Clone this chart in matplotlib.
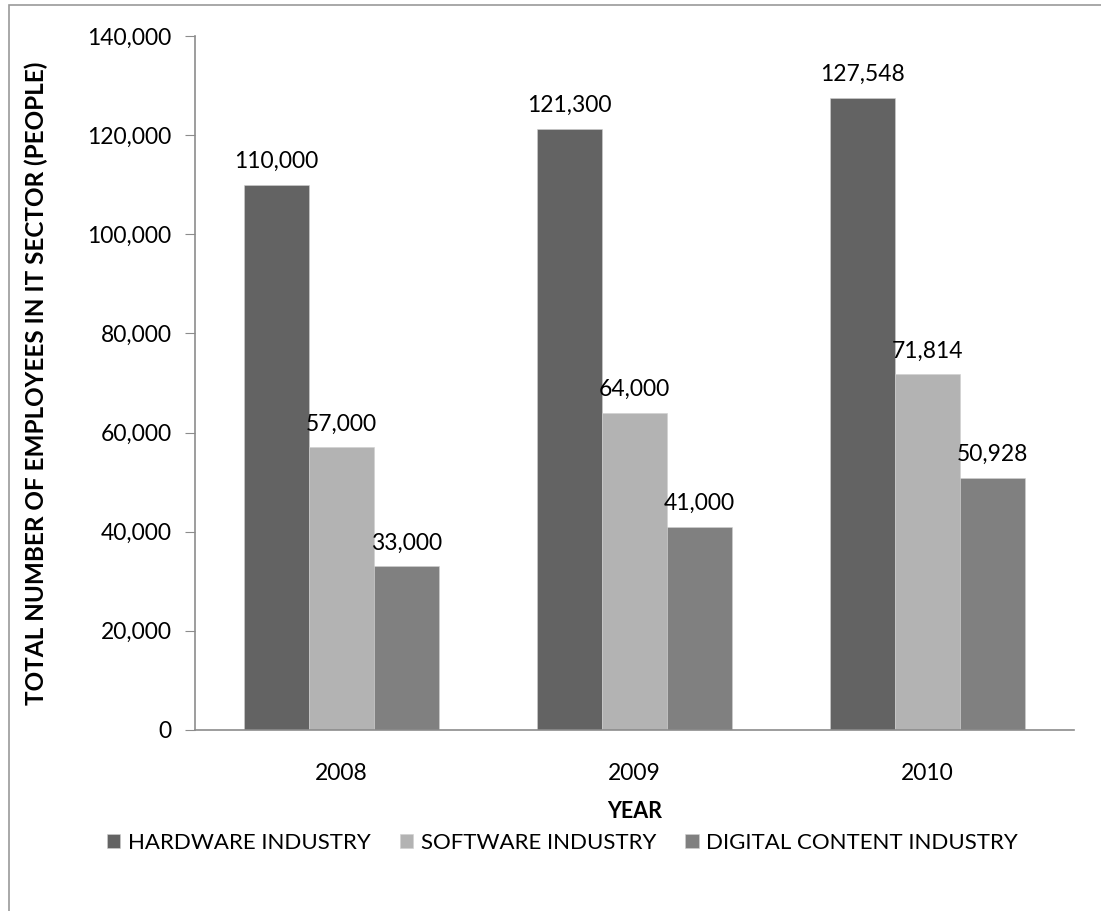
import numpy as np
import matplotlib
matplotlib.use("Agg")
import matplotlib.pyplot as plt
from matplotlib.patches import Rectangle

plt.rcParams['font.family'] = ['Lato', 'DejaVu Sans']

years = ["2008", "2009", "2010"]
series = ["HARDWARE INDUSTRY", "SOFTWARE INDUSTRY", "DIGITAL CONTENT INDUSTRY"]
hardware = [110000, 121300, 127548]
software = [57000, 64000, 71814]
digital = [33000, 41000, 50928]
colors = ["#636363", "#b3b3b3", "#808080"]

fig = plt.figure(figsize=(11.01, 9.11), dpi=100)
ax = fig.add_axes([0.1771, 0.1987, 0.7984, 0.7618])

x = np.arange(len(years))
width = 0.222
for i, (vals, name, c) in enumerate(zip([hardware, software, digital], series, colors)):
    bars = ax.bar(x + (i - 1) * width, vals, width, color=c, label=name,
                  edgecolor="#d0d0d0", linewidth=0.4)
    for b, v in zip(bars, vals):
        ax.annotate(f"{v:,}", (b.get_x() + b.get_width() / 2, v),
                    xytext=(0, 9), textcoords="offset points",
                    ha="center", va="bottom", fontsize=16.5)

ax.set_xlim(-0.5, 2.5)
ax.set_ylim(0, 140000)
ax.set_yticks(range(0, 140001, 20000))
ax.yaxis.set_major_formatter(matplotlib.ticker.FuncFormatter(lambda v, p: f"{int(v):,}"))
ax.set_xticks(x)
ax.set_xticklabels(years)
ax.tick_params(axis="y", labelsize=16.5, length=7, color="#8c8c8c", pad=10)
ax.tick_params(axis="x", labelsize=16.5, length=0, pad=24)

for s in ["top", "right"]:
    ax.spines[s].set_visible(False)
for s in ["left", "bottom"]:
    ax.spines[s].set_color("#8c8c8c")
    ax.spines[s].set_linewidth(1.2)

ax.set_ylabel("TOTAL NUMBER OF EMPLOYEES IN IT SECTOR (PEOPLE)", fontsize=17.5,
              fontweight="bold", labelpad=28)
ax.set_xlabel("YEAR", fontsize=15.5, fontweight="bold", labelpad=12)

fig.legend(loc="center", bbox_to_anchor=(0.511, 0.0746), ncol=3, frameon=False,
           fontsize=16, handlelength=0.6, handleheight=0.6, handletextpad=0.35,
           columnspacing=1.3)

# thin frame around the chart
fig.patches.append(Rectangle((9 / 1101, -0.01), 1.1, 1 - 5 / 911 + 0.01,
                             transform=fig.transFigure, fill=False,
                             edgecolor="#9a9a9a", linewidth=1.2))

fig.savefig("out.png", dpi=100)
